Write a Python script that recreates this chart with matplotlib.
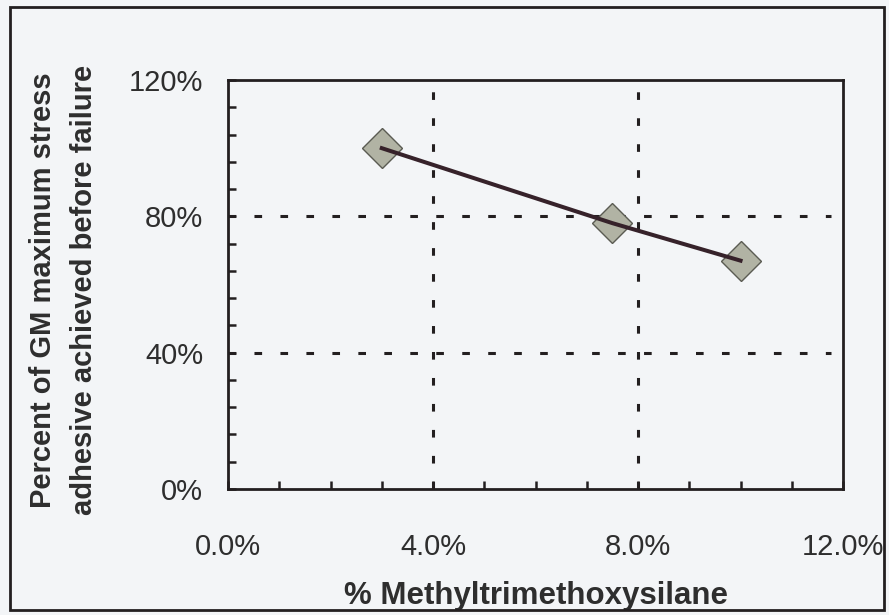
import matplotlib
matplotlib.use("Agg")
import matplotlib.pyplot as plt
from matplotlib.ticker import MultipleLocator, FuncFormatter
from matplotlib.patches import Rectangle

plt.rcParams['font.family'] = ['Liberation Sans', 'DejaVu Sans']

# Silane content (%) and retained stress (%)
silane_pct = [3.0, 7.5, 10.0]
stress_pct = [100.0, 78.0, 67.0]

x_ticks = [0, 4, 8, 12]
y_ticks = [0, 40, 80, 120]

bg = '#f3f5f7'
ink = '#231f20'
text_col = '#2e2e2e'

fig = plt.figure(figsize=(8.89, 6.15), dpi=100, facecolor=bg)
ax = fig.add_axes([0.2565, 0.2049, 0.6918, 0.665], facecolor=bg)

# outer frame around the whole chart
fig.patches.append(Rectangle((0.011, 0.008), 0.983, 0.980, transform=fig.transFigure,
                             fill=False, edgecolor=ink, linewidth=2.0))

# diamonds underneath, connecting line drawn over them
ax.plot(silane_pct, stress_pct, linestyle='none', zorder=3,
        marker='D', markersize=20, markerfacecolor='#b1b3a4',
        markeredgecolor='#5a5b52', markeredgewidth=1.0)
ax.plot(silane_pct, stress_pct, color='#36222a', linewidth=2.9, zorder=4)

ax.set_xlim(0, 12)
ax.set_ylim(0, 120)
ax.set_xticks(x_ticks)
ax.set_yticks(y_ticks)
ax.xaxis.set_minor_locator(MultipleLocator(1))
ax.yaxis.set_minor_locator(MultipleLocator(8))
ax.xaxis.set_major_formatter(FuncFormatter(lambda v, p: f"{v:.1f}%"))
ax.yaxis.set_major_formatter(FuncFormatter(lambda v, p: f"{v:.0f}%"))

ax.tick_params(which='both', direction='in', length=6, width=1.8, color=ink,
               top=False, right=False)
ax.tick_params(axis='x', which='major', labelsize=21, pad=32, labelcolor=text_col)
ax.tick_params(axis='y', which='major', labelsize=21, pad=18, labelcolor=text_col)

for s in ax.spines.values():
    s.set_linewidth(2.0)
    s.set_color(ink)

# dotted grid at the inner major ticks
grid_style = dict(color=ink, linestyle=(0, (2.5, 6.0)), linewidth=2.2, zorder=1)
for xv in x_ticks[1:-1]:
    ax.axvline(xv, **grid_style)
for yv in y_ticks[1:-1]:
    ax.axhline(yv, xmax=0.98, **grid_style)

ax.set_xlabel('% Methyltrimethoxysilane', fontsize=22.5, fontweight='bold',
              color=text_col, labelpad=14)
ax.set_ylabel('Percent of GM maximum stress\nadhesive achieved before failure',
              fontsize=21, fontweight='bold', color=text_col,
              linespacing=1.6, va='center', ha='center')
ax.yaxis.set_label_coords(-0.268, 0.487)

fig.savefig('out.png', dpi=100, facecolor=bg)
